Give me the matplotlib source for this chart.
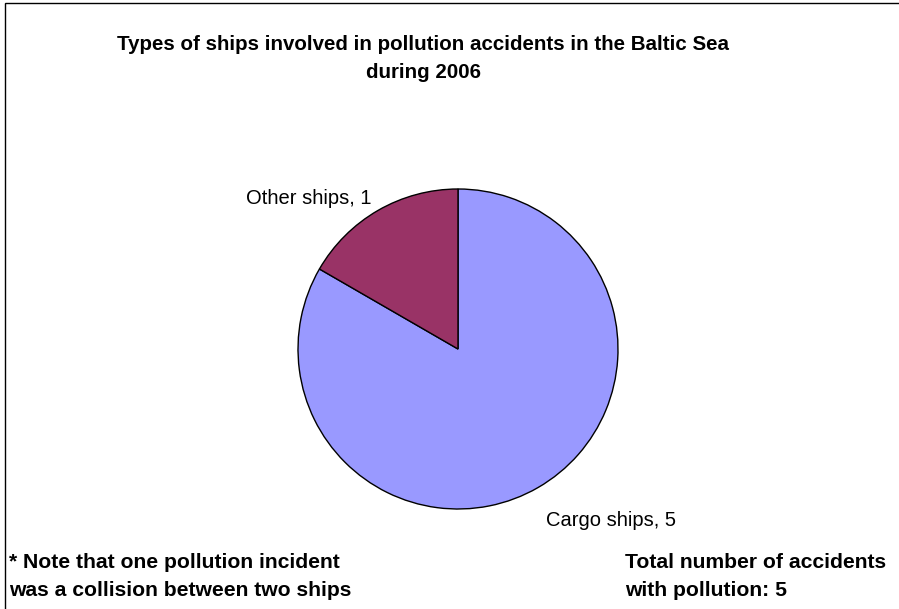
import matplotlib.pyplot as plt
from matplotlib.patches import Rectangle

plt.rcParams['font.family'] = ['Liberation Sans', 'DejaVu Sans']

# ship categories and number of pollution accidents
categories = ['Cargo ships', 'Other ships']
counts = [5, 1]
colors = ['#9999FF', '#993366']
total_accidents = 5

fig = plt.figure(figsize=(8.99, 6.09), dpi=100)

# outer frame (bottom edge falls outside the canvas)
fig.patches.append(Rectangle((5 / 899, -0.02), 1.0, 1.02 - 3 / 609, transform=fig.transFigure,
                             fill=False, edgecolor='black', linewidth=1.0))

ax = fig.add_axes([(458 - 160) / 899, (609 - 349 - 160) / 609, 320 / 899, 320 / 609])
wedges, texts = ax.pie(counts, colors=colors, startangle=90, counterclock=False,
                       labels=[f'{c}, {v}' for c, v in zip(categories, counts)],
                       wedgeprops=dict(edgecolor='black', linewidth=1.0),
                       textprops=dict(fontsize=14.5))
ax.set_aspect('equal')
ax.set_xlim(-1, 1)
ax.set_ylim(-1, 1)

# label placement around the pie
texts[0].set_position((0.955, -1.075))
texts[1].set_position((-0.93, 0.94))
for t in texts:
    t.set_ha('center')
    t.set_va('center')
    t.set_clip_on(False)

title_kw = dict(ha='center', va='center', fontsize=14.8, fontweight='bold')
fig.text(423 / 899, 1 - 45 / 609, 'Types of ships involved in pollution accidents in the Baltic Sea', **title_kw)
fig.text(423 / 899, 1 - 72 / 609, 'during 2006', **title_kw)

note_kw = dict(ha='left', va='center', fontsize=15.2, fontweight='bold')
fig.text(9 / 899, 1 - 562 / 609, '* Note that one pollution incident', **note_kw)
fig.text(9 / 899, 1 - 590 / 609, 'was a collision between two ships', **note_kw)
fig.text(625 / 899, 1 - 562 / 609, 'Total number of accidents', **note_kw)
fig.text(625 / 899, 1 - 590 / 609, f'with pollution: {total_accidents}', **note_kw)

fig.savefig('out.png', dpi=100)
